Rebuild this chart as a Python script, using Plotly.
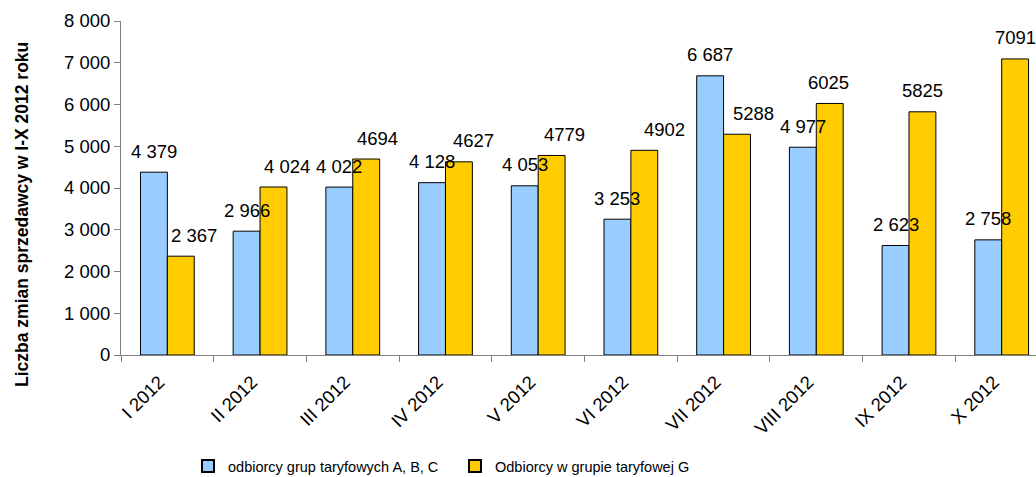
import plotly.graph_objects as go

# ---- data ----
categories = ["I 2012", "II 2012", "III 2012", "IV 2012", "V 2012",
              "VI 2012", "VII 2012", "VIII 2012", "IX 2012", "X 2012"]
abc_values = [4379, 2966, 4022, 4128, 4053, 3253, 6687, 4977, 2623, 2758]
g_values = [2367, 4024, 4694, 4627, 4779, 4902, 5288, 6025, 5825, 7091]
abc_labels = ["4 379", "2 966", "4 022", "4 128", "4 053",
              "3 253", "6 687", "4 977", "2 623", "2 758"]
g_labels = ["2 367", "4 024", "4694", "4627", "4779",
            "4902", "5288", "6025", "5825", "7091"]
y_ticks = [0, 1000, 2000, 3000, 4000, 5000, 6000, 7000, 8000]

name_abc = "odbiorcy grup taryfowych A, B, C"
name_g = "Odbiorcy w grupie taryfowej G"
y_title = "Liczba zmian sprzedawcy w I-X 2012 roku"

# ---- style / layout constants ----
W, H = 1036, 477
M_L, M_R, M_T, M_B = 121, 0, 21, 122
BARGAP = 0.42
X_RANGE = [-0.5, 9.37]
FONT = "Liberation Sans, Arial, sans-serif"
FS = 18.5
LABEL_LIFT = 21
# manual horizontal nudges (px) of the G-series labels, as placed in the original
g_label_nudge = [13, 13, 11, 15, 13, 20, 16, -1, 0, 0]

plot_w = W - M_L - M_R
plot_h = H - M_T - M_B
cat_px = plot_w / (X_RANGE[1] - X_RANGE[0])
bar_px = cat_px * (1 - BARGAP) / 2
half = bar_px / 2

fig = go.Figure()
fig.add_trace(go.Bar(x=categories, y=abc_values, name=name_abc,
                     marker=dict(color="#99CCFF", line=dict(color="#000000", width=1))))
fig.add_trace(go.Bar(x=categories, y=g_values, name=name_g,
                     marker=dict(color="#FFCC00", line=dict(color="#000000", width=1))))

ann = []
for i, c in enumerate(categories):
    ann.append(dict(x=c, y=abc_values[i], xref="x", yref="y", text=abc_labels[i],
                    showarrow=False, xshift=-half, yshift=LABEL_LIFT,
                    xanchor="center", yanchor="middle",
                    font=dict(family=FONT, size=FS, color="#000000")))
    ann.append(dict(x=c, y=g_values[i], xref="x", yref="y", text=g_labels[i],
                    showarrow=False, xshift=half + g_label_nudge[i], yshift=LABEL_LIFT,
                    xanchor="center", yanchor="middle",
                    font=dict(family=FONT, size=FS, color="#000000")))

# y-axis title as annotation (centred like the original)
ann.append(dict(xref="paper", yref="paper",
                x=(22 - M_L) / plot_w, y=(H - M_B - 215) / plot_h,
                text="<b>" + y_title + "</b>", textangle=-90, showarrow=False,
                xanchor="center", yanchor="middle",
                font=dict(family=FONT, size=17.5, color="#000000")))

fig.update_layout(
    width=W, height=H,
    margin=dict(l=M_L, r=M_R, t=M_T, b=M_B, pad=0, autoexpand=False),
    paper_bgcolor="#FFFFFF", plot_bgcolor="#FFFFFF",
    barmode="group", bargap=BARGAP, bargroupgap=0,
    separators=", ",
    font=dict(family=FONT, size=FS, color="#000000"),
    showlegend=True,
    legend=dict(orientation="h", x=(455 - M_L) / plot_w, xanchor="center",
                y=-(466 - (H - M_B)) / plot_h, yanchor="middle",
                font=dict(family=FONT, size=14.5, color="#000000"),
                entrywidth=222, entrywidthmode="pixels",
                bgcolor="rgba(0,0,0,0)", itemsizing="constant"),
    annotations=ann,
)
fig.update_xaxes(
    type="category", range=X_RANGE, showline=True, linecolor="#808080", linewidth=1,
    ticks="outside", tickson="boundaries", ticklen=6, tickcolor="#808080",
    tickangle=-45, showgrid=False, zeroline=False, automargin=False,
    ticklabelstandoff=8, ticklabelshift=-8,
    tickfont=dict(family=FONT, size=FS, color="#000000"),
)
fig.update_yaxes(
    range=[0, 8000], tickvals=y_ticks, tickformat=",d",
    showline=True, linecolor="#808080", linewidth=1,
    ticks="outside", ticklen=6, tickcolor="#808080",
    showgrid=False, zeroline=False, automargin=False,
    tickfont=dict(family=FONT, size=FS, color="#000000"),
)

fig.write_html("out.html", config={"displayModeBar": False},
               post_script="document.body.style.margin='0';document.body.style.overflow='hidden';")
